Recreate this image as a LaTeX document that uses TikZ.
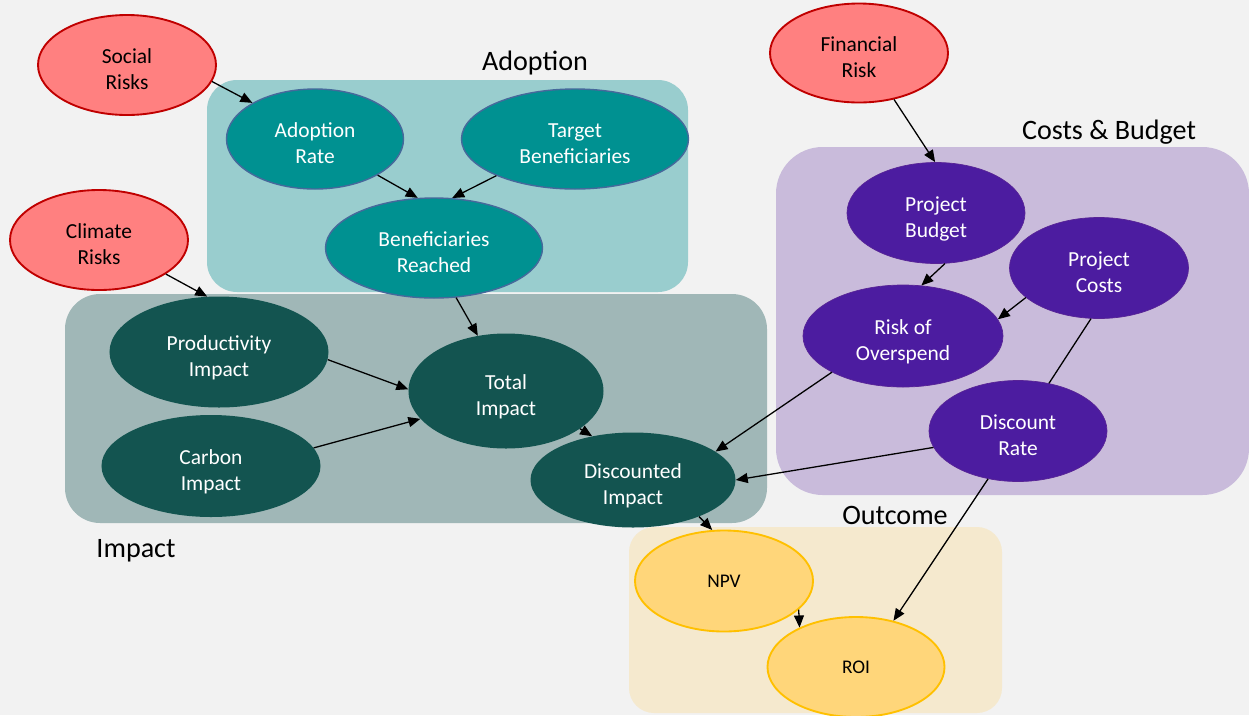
\documentclass[tikz,border=0pt]{standalone}
\usepackage{fontspec}
\setmainfont{Carlito}
\usepackage{tikz}
\usetikzlibrary{arrows.meta,shapes.geometric}
\definecolor{pagegray}{RGB}{242,242,242}
\definecolor{adoptbg}{RGB}{153,205,206}
\definecolor{impactbg}{RGB}{160,183,183}
\definecolor{costbg}{RGB}{201,187,219}
\definecolor{outbg}{RGB}{245,233,206}
\definecolor{riskfill}{RGB}{255,128,128}
\definecolor{riskline}{RGB}{192,0,0}
\definecolor{adoptfill}{RGB}{0,145,145}
\definecolor{adoptline}{RGB}{70,105,155}
\definecolor{impactfill}{RGB}{19,84,80}
\definecolor{costfill}{RGB}{76,28,160}
\definecolor{costline}{RGB}{88,36,150}
\definecolor{outfill}{RGB}{255,214,122}
\definecolor{outline}{RGB}{255,192,0}

\begin{document}
\begin{tikzpicture}[x=0.03cm, y=-0.03cm, font=\fontsize{18.3}{22.2}\selectfont,
  bubble/.style={ellipse, inner sep=0pt, align=center},
  twoline/.style={text height=41pt, text depth=0pt},
  risk/.style={bubble, twoline, fill=riskfill, draw=riskline, line width=1.6pt, text=black},
  adopt/.style={bubble, twoline, fill=adoptfill, draw=adoptline, line width=1.2pt, text=white},
  impact/.style={bubble, twoline, fill=impactfill, text=white},
  cost/.style={bubble, twoline, fill=costfill, draw=costline, line width=0.6pt, text=white},
  outc/.style={bubble, fill=outfill, draw=outline, line width=1.6pt, text=black,
    font=\fontsize{16.5}{20}\selectfont},
  grouplabel/.style={font=\fontsize{24}{28}\selectfont, text=black},
  link/.style={-{Triangle[length=3.6mm, width=3mm]}, line width=1.1pt}]

\useasboundingbox (0,0) rectangle (1249,715);
\fill[pagegray] (0,0) rectangle (1249,715);

\fill[adoptbg, rounded corners=0.9cm] (207,80) rectangle (688,292);
\fill[impactbg, rounded corners=1.05cm] (65,294) rectangle (767,523);
\fill[costbg, rounded corners=1.4cm] (776,147) rectangle (1249,495);
\fill[outbg, rounded corners=0.75cm] (629,527) rectangle (1002,713);

\node[grouplabel] (lbladopt) at (535,63) {Adoption};
\node[grouplabel] (lblcost) at (1109,132) {Costs \& Budget};
\node[grouplabel] (lblimpact) at (136,551) {Impact};
\node[grouplabel] (lblout) at (895,515) {Outcome};

\node[risk, minimum width=5.34cm, minimum height=3cm] (social) at (127,65) {Social\\Risks};
\node[risk, minimum width=5.34cm, minimum height=3cm] (climate) at (99,240) {Climate\\Risks};
\node[risk, minimum width=5.34cm, minimum height=2.97cm] (fin) at (859,53) {Financial\\Risk};

\node[adopt, minimum width=5.31cm, minimum height=3cm] (adrate) at (315,139) {Adoption\\Rate};
\node[adopt, minimum width=6.81cm, minimum height=3cm] (target) at (575,139) {Target\\Beneficiaries};
\node[adopt, minimum width=6.51cm, minimum height=3cm] (benef) at (434,248) {Beneficiaries\\Reached};

\node[impact, minimum width=6.57cm, minimum height=3.33cm] (prod) at (219,352) {Productivity\\Impact};
\node[impact, minimum width=6.57cm, minimum height=3.06cm] (carbon) at (211,466) {Carbon\\Impact};
\node[impact, minimum width=5.85cm, minimum height=3.45cm] (total) at (506,391) {Total\\Impact};
\node[impact, minimum width=6.15cm, minimum height=2.85cm] (disc) at (633,480) {Discounted\\Impact};

\node[cost, minimum width=5.34cm, minimum height=3.03cm] (budget) at (936,213) {Project\\Budget};
\node[cost, minimum width=5.37cm, minimum height=3.03cm] (costs) at (1099,268) {Project\\Costs};
\node[cost, minimum width=6cm, minimum height=3.06cm] (over) at (903,336) {Risk of\\Overspend};
\node[cost, minimum width=5.34cm, minimum height=3.03cm] (rate) at (1018,431) {Discount\\Rate};

\node[outc, minimum width=5.34cm, minimum height=3.03cm] (npv) at (724,581) {NPV};
\node[outc, minimum width=5.31cm, minimum height=3cm] (roi) at (856,667) {ROI};

\draw[link] (social.-11) -- (adrate.150);
\draw[link] (climate.-27) -- (prod.102);
\draw[link] (adrate.-30) -- (benef.108);
\draw[link] (target.-155) -- (benef.70);
\draw[link] (benef.-66) -- (total.117);
\draw[link] (prod.-4) -- (total.179);
\draw[link] (carbon.10) -- (total.198);
\draw[link] (total.-27) -- (disc.133);
\draw[link] (disc.-29) -- (npv.103);
\draw[link] (npv.-21) -- (roi.145);
\draw[link] (fin.-53) -- (budget.91);
\draw[link] (budget.-80) -- (over.70);
\draw[link] (costs.202) -- (over.10);
\draw[link] (over.207) -- (disc.19);
\draw[link] (rate.191) -- (disc.0);
\draw[line width=1.1pt] (costs.261) -- (rate.57);
\draw[link] (rate.238) -- (roi.51);
\end{tikzpicture}
\end{document}
